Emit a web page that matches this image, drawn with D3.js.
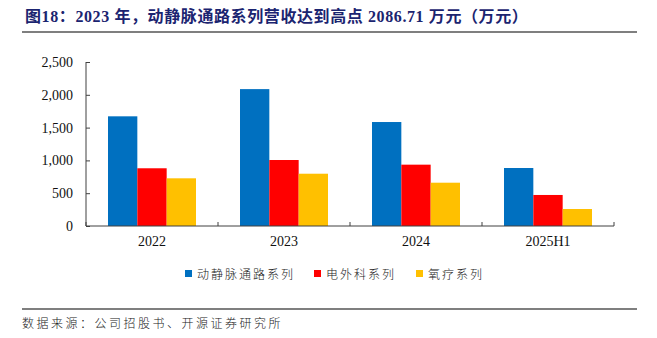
<!DOCTYPE html>
<html><head><meta charset="utf-8">
<script src="https://cdn.jsdelivr.net/npm/d3@7"></script>
<style>body{margin:0;background:#fff}svg{display:block}</style>
</head><body>
<svg id="c" width="657" height="338"></svg>
<script>
const categories = ["2022","2023","2024","2025H1"];
const seriesNames = ["动静脉通路系列","电外科系列","氧疗系列"];
const avAccess = [1672, 2086.71, 1585, 884];
const electroSurgery = [880, 1006, 935, 473];
const oxygenTherapy = [727, 797, 660, 259];
const yTicks = [0, 500, 1000, 1500, 2000, 2500];
const colors = ["#0070C0", "#FF0000", "#FFC000"];
const titleText = "图18：2023 年，动静脉通路系列营收达到高点 2086.71 万元（万元）";
const sourceText = "数据来源：公司招股书、开源证券研究所";

const series = [avAccess, electroSurgery, oxygenTherapy];
const svg = d3.select("#c");
const W = 657, H = 338;
const m = {left: 86, right: 43, top: 62, bottom: 112};

// title
svg.append("text").attr("x", 25).attr("y", 22)
  .attr("font-family", "'Liberation Serif','Noto Sans CJK SC'")
  .attr("font-weight", "bold").attr("font-size", 16).attr("fill", "#1B2470")
  .attr("letter-spacing", 0.6)
  .text(titleText);
svg.append("line").attr("x1", 22).attr("x2", 637).attr("y1", 32).attr("y2", 32)
  .attr("stroke", "#555").attr("stroke-width", 1.3);

const x = d3.scaleBand().domain(categories).range([m.left, W - m.right]);
const x1 = d3.scaleBand().domain(d3.range(3)).range([0, x.bandwidth()]).paddingOuter(0.75).paddingInner(0);
const y = d3.scaleLinear().domain([0, 2500]).range([H - m.bottom, m.top]);

const g = svg.append("g");
categories.forEach((c, i) => {
  series.forEach((s, j) => {
    g.append("rect")
      .attr("x", x(c) + x1(j)).attr("width", x1.bandwidth())
      .attr("y", y(s[i])).attr("height", y(0) - y(s[i]))
      .attr("fill", colors[j]);
  });
});

// y axis
const ya = svg.append("g").attr("transform", `translate(${m.left},0)`)
  .call(d3.axisLeft(y).tickValues(yTicks).tickSize(-4).tickPadding(13).tickFormat(d3.format(",")));
ya.select(".domain").attr("stroke", "#404040").attr("d", `M0,${m.top}V${H - m.bottom}`);
ya.selectAll(".tick line").attr("stroke", "#404040");
ya.selectAll("text").attr("font-family", "'Liberation Serif'").attr("font-size", 14).attr("fill", "#111");

// x axis
const xa = svg.append("g").attr("transform", `translate(0,${H - m.bottom})`)
  .call(d3.axisBottom(x).tickSize(0).tickPadding(10));
xa.select(".domain").attr("stroke", "#404040").attr("d", `M${m.left},0H${W - m.right}`);
xa.selectAll("text").attr("font-family", "'Liberation Serif'").attr("font-size", 14).attr("fill", "#111");
const bounds = categories.map(c => x(c)).concat([x(categories[categories.length-1]) + x.bandwidth()]);
xa.selectAll(".sep").data(bounds).enter().append("line")
  .attr("x1", d => d).attr("x2", d => d).attr("y1", 0).attr("y2", -4).attr("stroke", "#404040");

// legend
const legX = [185, 314, 416];
seriesNames.forEach((n, j) => {
  svg.append("rect").attr("x", legX[j]).attr("y", 270).attr("width", 7).attr("height", 7).attr("fill", colors[j]);
  svg.append("text").attr("x", legX[j] + 12).attr("y", 278.5)
    .attr("font-family", "'Noto Sans CJK SC'").attr("font-weight", 300).attr("font-size", 12)
    .attr("letter-spacing", 2).attr("fill", "#222").text(n);
});

// source
svg.append("line").attr("x1", 22).attr("x2", 637).attr("y1", 309).attr("y2", 309)
  .attr("stroke", "#555").attr("stroke-width", 1.3);
svg.append("text").attr("x", 22).attr("y", 327.5)
  .attr("font-family", "'Noto Sans CJK SC'").attr("font-weight", 300).attr("font-size", 12)
  .attr("letter-spacing", 2.5).attr("fill", "#222").text(sourceText);
</script>
</body></html>
